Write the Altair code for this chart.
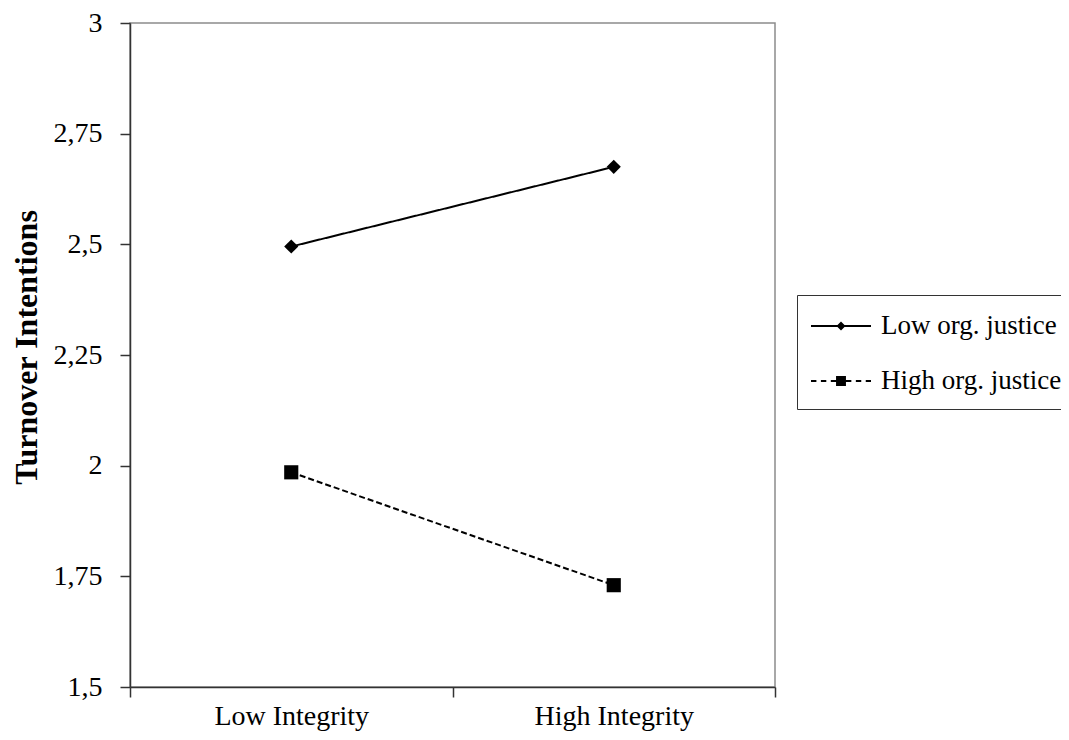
import altair as alt
import pandas as pd

# ---- data ----
integrity = ["Low Integrity", "High Integrity"]
series_names = ["Low org. justice", "High org. justice"]
low_org_justice = [2.495, 2.675]
high_org_justice = [1.985, 1.73]
y_ticks = [1.5, 1.75, 2.0, 2.25, 2.5, 2.75, 3.0]

rows = []
for name, vals in zip(series_names, [low_org_justice, high_org_justice]):
    for g, v in zip(integrity, vals):
        rows.append({"integrity": g, "series": name, "value": v})
df = pd.DataFrame(rows)


# legend symbols (style only): a thin filled bar (solid or dashed) with a marker in the middle
def bar(a, b, t=0.065):
    return f"M{a},{-t}L{b},{-t}L{b},{t}L{a},{t}Z"


def dashed(a, b, on=0.36, off=0.3):
    parts, s = [], a
    while s < b - 1e-6:
        e = min(s + on, b)
        parts.append(bar(round(s, 3), round(e, 3)))
        s = e + off
    return "".join(parts)


legend_diamond = bar(-2, 2) + "M0,-0.3L0.3,0L0,0.3L-0.3,0Z"
legend_square = (
    dashed(-2, -0.33) + dashed(0.33, 2)
    + "M-0.33,-0.33L0.33,-0.33L0.33,0.33L-0.33,0.33Z"
)

FONT = "Liberation Serif"

x_enc = alt.X(
    "integrity:N",
    sort=integrity,
    scale=alt.Scale(type="band", paddingInner=0, paddingOuter=0),
    axis=alt.Axis(
        title=None, labelAngle=0, tickBand="extent", labelFontSize=28,
        labelPadding=5, tickSize=10,
    ),
)
y_enc = alt.Y(
    "value:Q",
    scale=alt.Scale(domain=[1.5, 3.0], nice=False, zero=False),
    axis=alt.Axis(
        values=y_ticks,
        labelExpr="replace(toString(datum.value), '.', ',')",
        title="Turnover Intentions",
        titleFontSize=32, titleFontWeight="bold", titleFont=FONT,
        titleX=-104, titleY=324, titleAlign="center", titleBaseline="middle",
        titleAngle=270,
        labelFontSize=28, labelPadding=18, tickSize=10,
    ),
)

dash_scale = alt.Scale(domain=series_names, range=[[1, 0], [6, 3]])

base = alt.Chart(df)

legend_layer = base.mark_point(
    filled=True, fill="black", size=900, opacity=1,
).transform_filter("false").encode(
    x=x_enc,
    y=y_enc,
    shape=alt.Shape(
        "series:N",
        scale=alt.Scale(domain=series_names, range=[legend_diamond, legend_square]),
        sort=series_names,
        legend=alt.Legend(
            title=None, orient="none", legendX=667, legendY=272,
            padding=15, strokeColor="#333", symbolSize=900,
            symbolFillColor="black", symbolOffset=13,
            labelOffset=24, rowPadding=26,
            labelFontSize=27, labelFont=FONT, labelColor="black",
            labelLimit=400, symbolOpacity=1,
        ),
    ),
)

lines = base.mark_line(color="black", strokeWidth=2).encode(
    x=x_enc,
    y=y_enc,
    strokeDash=alt.StrokeDash("series:N", scale=dash_scale, sort=series_names, legend=None),
    detail="series:N",
)

points = base.mark_point(filled=True, fill="black", size=200, opacity=1).encode(
    x=x_enc,
    y=y_enc,
    shape=alt.Shape(
        "series:N",
        scale=alt.Scale(domain=series_names, range=["diamond", "square"]),
        sort=series_names,
        legend=None,
    ),
)

chart = alt.layer(legend_layer, lines, points).resolve_scale(
    shape="independent"
).properties(
    width=645,
    height=664,
    autosize=alt.AutoSizeParams(type="none"),
    padding={"left": 122, "top": 15, "right": 286, "bottom": 45},
).configure(
    font=FONT,
).configure_view(
    stroke="#8c8c8c", strokeWidth=1.5,
).configure_axis(
    grid=False, domainColor="#333", domainWidth=1.5, tickColor="#333",
    tickWidth=1.5, labelColor="black", labelFont=FONT, titleColor="black",
)

chart.save("out.html", embed_options={"renderer": "svg", "actions": False})
